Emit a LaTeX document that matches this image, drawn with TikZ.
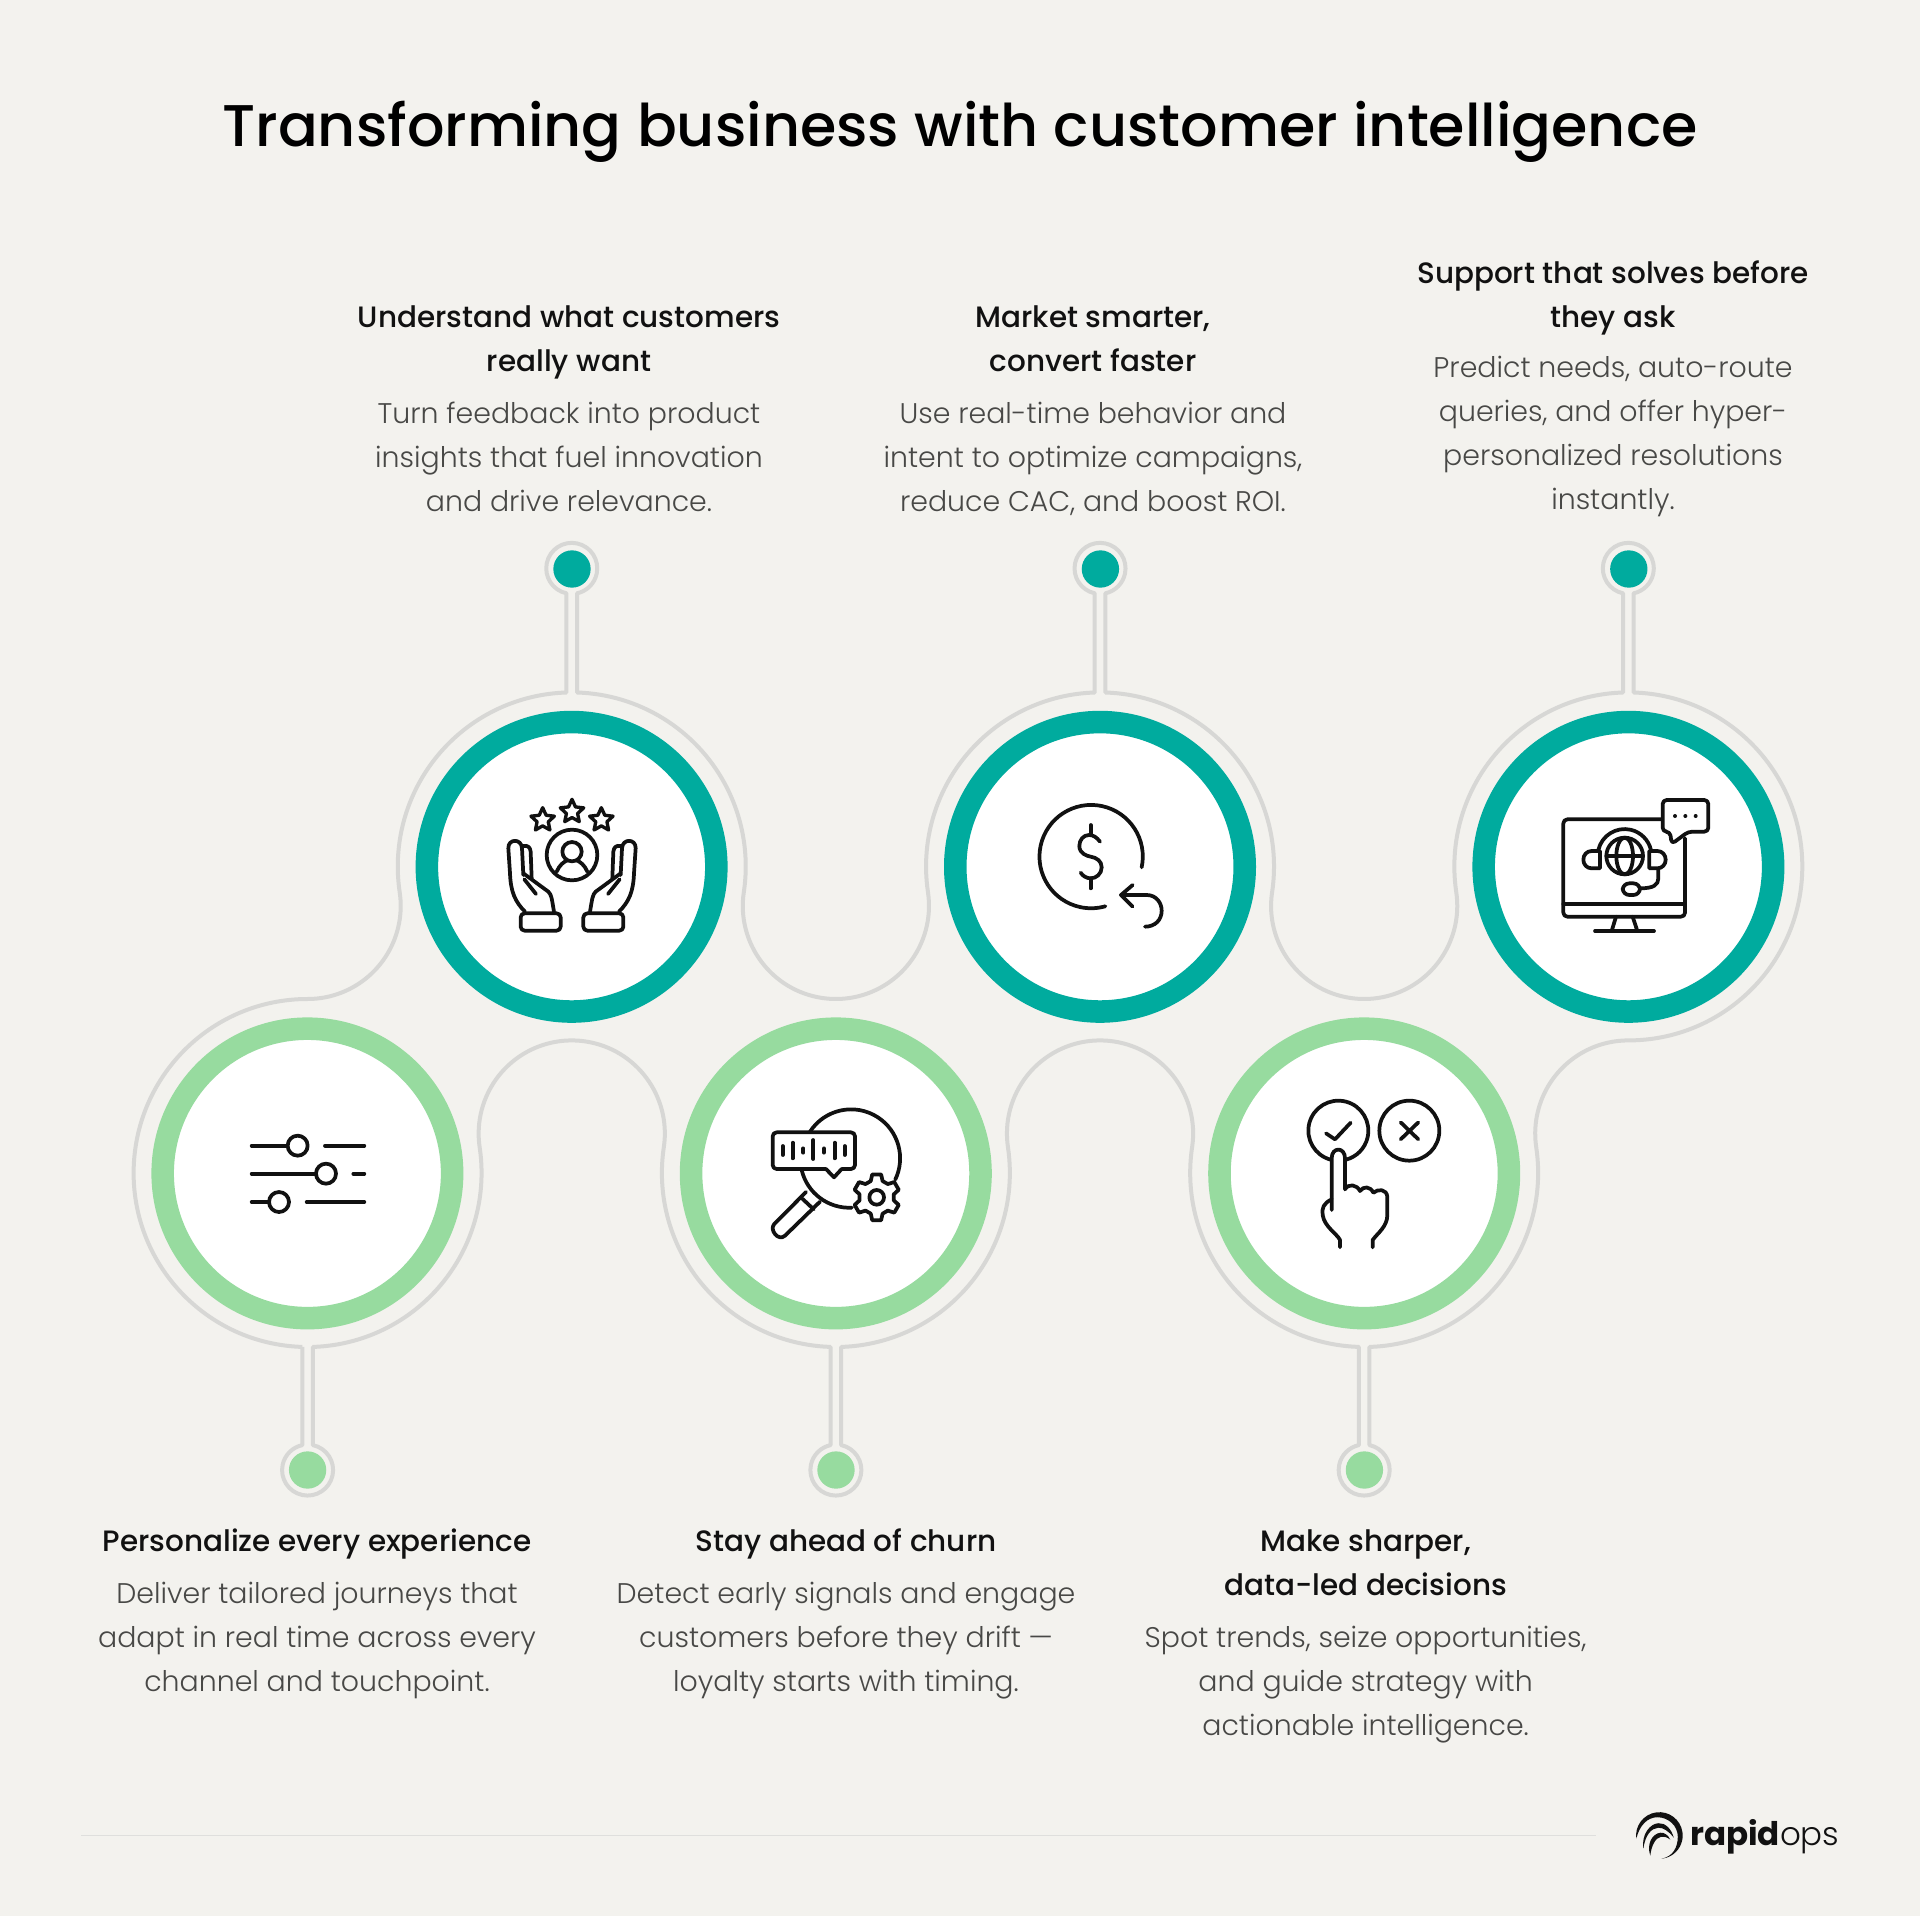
\documentclass[tikz,border=0pt]{standalone}
\usepackage{fontspec}
\usetikzlibrary{shapes.geometric}
\setmainfont{Poppins}[UprightFont=* Medium]
\newfontfamily\bodyfont{Poppins}[UprightFont=* Light]
\newfontfamily\logofont{Poppins}[UprightFont=* Light,BoldFont=* Bold]
\definecolor{pagebg}{RGB}{243,242,238}
\definecolor{channel}{RGB}{215,215,213}
\definecolor{tealring}{RGB}{0,171,158}
\definecolor{greenring}{RGB}{151,219,159}
\definecolor{bodygray}{RGB}{72,72,70}
\definecolor{inkblack}{RGB}{17,17,17}
\newcommand{\handshape}{
\draw [iconline] (135,455) .. controls (105,425) and (92,395) .. (90,340) -- (85,265) .. controls (84,235) and (125,235) .. (126,265) -- (130,345) ;
\draw [iconline] (128,258) .. controls (145,255) and (150,262) .. (152,275) -- (155,355) ;
\draw [iconline] (130,340) -- (205,395) .. controls (215,405) and (215,415) .. (222,455) ;
\draw [iconline] (133,358) -- (168,402) ;
\draw [iconline,rounded corners=3pt] (122,460) rectangle (242,512) ;
}

\begin{document}
\begin{tikzpicture}[x=0.75pt,y=0.75pt,yscale=-1,xscale=1,
  iconline/.style={draw=inkblack,line width=2.8pt,line cap=round,line join=round},
  tealmark/.style={circle,draw=tealring,fill=white,line width=16.9pt,minimum size=217.1pt,inner sep=0pt},
  greenmark/.style={circle,draw=greenring,fill=white,line width=16.9pt,minimum size=217.1pt,inner sep=0pt},
  tealdot/.style={circle,fill=tealring,minimum size=28pt,inner sep=0pt},
  greendot/.style={circle,fill=greenring,minimum size=28pt,inner sep=0pt},
  headtext/.style={font=\fontsize{22.1}{33}\selectfont,text=inkblack,align=center,inner sep=0.75pt,execute at begin node=\strut,execute at end node=\strut},
  bodytext/.style={font=\bodyfont\fontsize{21.3}{33}\selectfont,text=bodygray,align=center,inner sep=0.75pt,execute at begin node=\strut,execute at end node=\strut},
  starmark/.style={star,star points=5,star point ratio=2.1,iconline,line width=2.5pt,minimum size=18.5pt,inner sep=0pt}]

%Shape: Page [id:page]
\fill [pagebg] (0,0) rectangle (1920,1916) ;
\useasboundingbox (0,0) rectangle (1920,1916) ;

%Shape: Channel outline [id:channel]
\draw [channel,line width=3pt,line join=round] (302.29,1346.9)
  arc (91.75:270:174) arc (90:-8.5:93.1) arc (171.5:268.25:174)
  -- ++(0,-99.2) arc (102:438:25.5) -- ++(0,99.2)
  arc (271.75:368.5:174) arc (188.5:-8.5:93.1) arc (171.5:268.25:174)
  -- ++(0,-99.2) arc (102:438:25.5) -- ++(0,99.2)
  arc (271.75:368.5:174) arc (188.5:-8.5:93.1) arc (171.5:268.25:174)
  -- ++(0,-99.2) arc (102:438:25.5) -- ++(0,99.2)
  arc (271.75:450:174) arc (270:171.5:93.1) arc (-8.5:88.25:174)
  -- ++(0,98.2) arc (-78:258:25.5) -- ++(0,-98.2)
  arc (91.75:188.5:174) arc (8.5:-188.5:93.1) arc (-8.5:88.25:174)
  -- ++(0,98.2) arc (-78:258:25.5) -- ++(0,-98.2)
  arc (91.75:188.5:174) arc (8.5:-188.5:93.1) arc (-8.5:88.25:174)
  -- ++(0,98.2) arc (-78:258:25.5) -- ++(0,-98.2) ;

%Shape: Rings [id:rings]
\node (ringA) [tealmark] at (571.6,866.8) {};
\node (ringB) [tealmark] at (1100,866.8) {};
\node (ringC) [tealmark] at (1628.4,866.8) {};
\node (ringD) [greenmark] at (307.4,1173.4) {};
\node (ringE) [greenmark] at (835.8,1173.4) {};
\node (ringF) [greenmark] at (1364.2,1173.4) {};

%Shape: Dots [id:dots]
\node (dotA) [tealdot] at (572,569) {};
\node (dotB) [tealdot] at (1100.4,569) {};
\node (dotC) [tealdot] at (1628.8,569) {};
\node (dotD) [greendot] at (307.6,1470) {};
\node (dotE) [greendot] at (836,1470) {};
\node (dotF) [greendot] at (1364.4,1470) {};

%Shape: Hands icon [id:hands]
\begin{scope}[shift={(480,760)},scale=1/3]
\node (starA) [starmark] at (188,180) {};
\node (starB) [starmark] at (276,155) {};
\node (starC) [starmark] at (364,180) {};
\draw [iconline] (276,285) circle (76) ;
\draw [iconline] (276,275) circle (29) ;
\draw [iconline] (230,335) .. controls (238,315) and (252,305) .. (262,301) ;
\draw [iconline] (322,335) .. controls (314,315) and (300,305) .. (290,301) ;
\handshape
\begin{scope}[shift={(552,0)},xscale=-1]
\handshape
\end{scope}
\end{scope}

%Shape: Dollar icon [id:dollar]
\begin{scope}[shift={(990,760)},scale=1/3]
\draw [iconline] (455,322) arc (12:-286:155) ;
\draw [iconline] (302,195) -- (302,225) ;
\draw [iconline] (302,355) -- (302,385) ;
\draw [iconline] (330,245) .. controls (320,232) and (310,225) .. (297,225) .. controls (280,225) and (268,240) .. (268,258) .. controls (268,280) and (290,288) .. (302,290) .. controls (320,293) and (335,303) .. (335,322) .. controls (335,342) and (318,355) .. (302,355) .. controls (290,355) and (278,348) .. (272,338) ;
\draw [iconline] (428,375) -- (393,405) -- (428,440) ;
\draw [iconline] (393,405) -- (470,405) .. controls (500,405) and (515,430) .. (515,452) .. controls (515,480) and (495,500) .. (465,500) ;
\end{scope}

%Shape: Monitor icon [id:monitor]
\begin{scope}[shift={(1530,770)},scale=1/3]
\draw [iconline,rounded corners=3pt] (395,148) -- (100,148) -- (100,440) -- (465,440) -- (465,205) ;
\draw [iconline] (100,402) -- (465,402) ;
\draw [iconline] (258,440) -- (245,483) ;
\draw [iconline] (308,440) -- (322,483) ;
\draw [iconline] (195,483) -- (372,483) ;
\draw [iconline,rounded corners=3pt] (398,90) -- (535,90) -- (535,185) -- (475,185) -- (425,222) -- (420,185) -- (398,185) -- cycle ;
\fill [inkblack] (435,138) circle (6) (466,138) circle (6) (497,138) circle (6) ;
\draw [iconline] (284,258) circle (55) ;
\draw [iconline] (284,258) ellipse (25 and 55) ;
\draw [iconline] (229,258) -- (339,258) ;
\draw [iconline] (205,240) arc (193:347:81) ;
\draw [iconline] (210,243) -- (185,243) .. controls (170,243) and (160,255) .. (160,269) .. controls (160,283) and (170,295) .. (185,295) -- (210,295) -- cycle ;
\draw [iconline] (358,243) -- (382,243) .. controls (397,243) and (407,255) .. (407,269) .. controls (407,283) and (397,295) .. (382,295) -- (358,295) -- cycle ;
\draw [iconline] (385,295) -- (385,325) .. controls (385,345) and (370,355) .. (330,355) ;
\draw [iconline,rounded corners=5pt] (278,340) rectangle (330,375) ;
\end{scope}

%Shape: Magnifier icon [id:magnifier]
\begin{scope}[shift={(750,1090)},scale=1/3]
\draw [iconline] (180,125) arc (213:385.7:147) ;
\draw [iconline] (155,240) arc (166.7:87:147) ;
\draw [iconline] (168,306) -- (72,403) .. controls (58,420) and (85,455) .. (105,437) -- (210,335) ;
\draw [iconline] (157,326) -- (191,358) ;
\draw [iconline,rounded corners=3pt] (228,237) -- (68,237) -- (68,127) -- (315,127) -- (315,237) -- (275,237) ;
\draw [iconline] (228,237) -- (252,262) -- (275,237) ;
\draw [iconline] (98,168) -- (98,195) (128,158) -- (128,205) (160,175) -- (160,188) (190,150) -- (190,207) (222,175) -- (222,188) (254,158) -- (254,205) (284,168) -- (284,195) ;
\begin{scope}[shift={(380,322)}]
\draw [iconline] (10:52) \foreach \a in {30,90,...,330} { -- ({\a-20}:52) -- ({\a-11}:70) -- ({\a+11}:70) -- ({\a+20}:52) } -- cycle ;
\draw [iconline] (0,0) circle (22) ;
\end{scope}
\end{scope}

%Shape: Choice icon [id:choice]
\begin{scope}[shift={(1290,1090)},scale=1/3]
\draw [iconline] (122.8,209.2) arc (104.3:435:90) ;
\draw [iconline] (358,122) circle (90) ;
\draw [iconline] (108,130) -- (135,148) -- (182,98) ;
\draw [iconline] (332,97) -- (385,148) (385,97) -- (332,148) ;
\draw [iconline] (125,360) -- (125,205) .. controls (125,170) and (165,170) .. (165,205) -- (165,298) .. controls (175,280) and (200,283) .. (210,303) .. controls (220,288) and (240,288) .. (250,308) .. controls (265,295) and (290,298) .. (292,320) -- (292,375) .. controls (292,410) and (262,430) .. (248,450) -- (248,472) ;
\draw [iconline] (125,328) .. controls (100,340) and (95,355) .. (98,375) .. controls (103,410) and (140,430) .. (150,450) -- (150,472) ;
\end{scope}

%Shape: Sliders icon [id:sliders]
\begin{scope}[shift={(230,1110)},scale=1/3]
\draw [iconline] (65,107) -- (172,107) (285,107) -- (403,107) ;
\draw [iconline] (203,107) circle (30) ;
\draw [iconline] (65,191) -- (257,191) (370,191) -- (403,191) ;
\draw [iconline] (288,191) circle (30) ;
\draw [iconline] (65,276) -- (117,276) (230,276) -- (403,276) ;
\draw [iconline] (147,276) circle (30) ;
\end{scope}

%Shape: Footer rule [id:footer]
\draw [channel!70!pagebg,line width=1.1pt] (81,1835.6) -- (1596,1835.6) ;

%Shape: Logo mark [id:logo]
\begin{scope}[shift={(1659.3,1835.7)}]
\fill [inkblack] (-23,3) arc (172:445:23.3) .. controls (14,21) and (18.5,11) .. (18.5,1) .. controls (18.5,-10) and (9,-18.5) .. (-2,-18.5) .. controls (-12,-18.5) and (-20,-10) .. (-23,3) -- cycle ;
\fill [inkblack] (-16,13) .. controls (-18,-2) and (-9,-12) .. (-1,-12.5) .. controls (6,-13) and (12,-7) .. (14.5,2) .. controls (9,-5) and (4,-8) .. (-1,-8) .. controls (-8,-7.5) and (-14,-1) .. (-16,13) -- cycle ;
\fill [inkblack] (-9,20) .. controls (-13,8) and (-7,-2) .. (1,-3) .. controls (5,-3.5) and (9,-0.5) .. (11,4) .. controls (8,1.5) and (5,0.5) .. (2,1) .. controls (-4,2) and (-8,10) .. (-9,20) -- cycle ;
\end{scope}

% Text Node
\draw (960,132) node (titleText) [font=\fontsize{44.1}{58}\selectfont,text=black,inner sep=0.75pt] {Transforming business with customer intelligence};
% Text Node
\draw (569,345) node (headA) [headtext] {Understand what customers\\really want};
% Text Node
\draw (569,463) node (bodyA) [bodytext] {Turn feedback into product\\insights that fuel innovation\\and drive relevance.};
% Text Node
\draw (1093,345) node (headB) [headtext] {Market smarter,\\convert faster};
% Text Node
\draw (1093,463) node (bodyB) [bodytext] {Use real-time behavior and\\intent to optimize campaigns,\\reduce CAC, and boost ROI.};
% Text Node
\draw (1613,301) node (headC) [headtext] {Support that solves before\\they ask};
% Text Node
\draw (1613,439) node (bodyC) [bodytext] {Predict needs, auto-route\\queries, and offer hyper-\\personalized resolutions\\instantly.};
% Text Node
\draw (317,1542.6) node (headD) [headtext] {Personalize every experience};
% Text Node
\draw (317,1643) node (bodyD) [bodytext] {Deliver tailored journeys that\\adapt in real time across every\\channel and touchpoint.};
% Text Node
\draw (846,1542.6) node (headE) [headtext] {Stay ahead of churn};
% Text Node
\draw (846,1643) node (bodyE) [bodytext] {Detect early signals and engage\\customers before they drift —\\loyalty starts with timing.};
% Text Node
\draw (1365.6,1569.6) node (headF) [headtext] {Make sharper,\\data-led decisions};
% Text Node
\draw (1365.6,1687) node (bodyF) [bodytext] {Spot trends, seize opportunities,\\and guide strategy with\\actionable intelligence.};
% Text Node
\draw (1690,1845) node (logoText) [anchor=base west,font=\logofont\fontsize{24.4}{32}\selectfont,text=inkblack,inner sep=0pt] {\textbf{rapid}ops};

\end{tikzpicture}
\end{document}
